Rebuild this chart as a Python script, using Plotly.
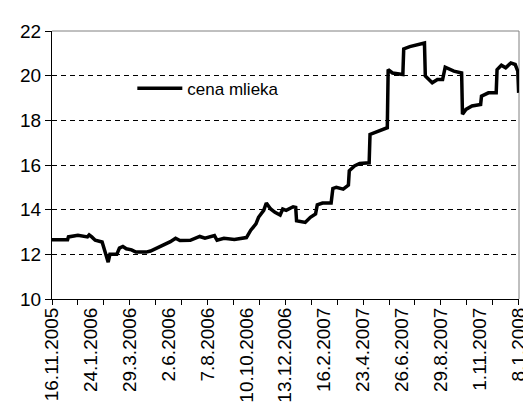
import plotly.graph_objects as go

# category labels (every 45th trading day)
tick_labels = ["16.11.2005", "24.1.2006", "29.3.2006", "2.6.2006", "7.8.2006",
               "10.10.2006", "13.12.2006", "16.2.2007", "23.4.2007", "26.6.2007",
               "29.8.2007", "1.11.2007", "8.1.2008"]
label_step = 45
minor_tick_step = 30
n_last = 540

# series: trading-day index and milk price
day_index = [0, 18, 19, 30, 41, 43, 46, 50, 58, 60, 63, 65, 67, 75, 78, 82, 86, 92, 97, 109,
             114, 123, 129, 137, 143, 148, 160, 171, 177, 188, 191, 199, 211, 225, 230, 236, 239, 245, 248, 253,
             258, 264, 267, 271, 279, 282, 283, 293, 299, 305, 307, 313, 320, 323, 325, 329, 337, 343, 344, 350,
             356, 367, 368, 373, 384, 388, 389, 394, 406, 407, 414, 422, 431, 432, 440, 446, 452, 455, 460, 465,
             474, 475, 479, 486, 496, 497, 505, 514, 515, 520, 525, 531, 536, 539, 540]
price = [12.65, 12.65, 12.78, 12.85, 12.78, 12.87, 12.78, 12.63, 12.55, 12.30, 11.90, 11.65, 12.00, 12.00, 12.28, 12.35, 12.25, 12.20, 12.10, 12.10,
         12.15, 12.30, 12.42, 12.57, 12.72, 12.62, 12.63, 12.80, 12.72, 12.84, 12.63, 12.72, 12.67, 12.75, 13.08, 13.36, 13.66, 13.97, 14.30, 14.03,
         13.88, 13.76, 14.03, 13.97, 14.13, 14.10, 13.50, 13.43, 13.66, 13.81, 14.22, 14.30, 14.30, 14.30, 14.95, 15.00, 14.92, 15.10, 15.74, 15.96,
         16.07, 16.10, 17.37, 17.45, 17.60, 17.67, 20.27, 20.12, 20.05, 21.20, 21.30, 21.39, 21.46, 19.98, 19.68, 19.83, 19.83, 20.38, 20.27, 20.20,
         20.12, 18.27, 18.49, 18.64, 18.71, 19.08, 19.23, 19.23, 20.27, 20.47, 20.35, 20.57, 20.50, 20.20, 19.23]

y_ticks = [10, 12, 14, 16, 18, 20, 22]

FONT = "Liberation Sans, Arial, sans-serif"

label_pos = [i * label_step for i in range(len(tick_labels))]
minor_pos = list(range(0, n_last + 1, minor_tick_step))
x_range = [0, n_last + 0.4]

fig = go.Figure()
fig.add_trace(go.Scatter(
    x=day_index, y=price, mode="lines", name="cena mlieka",
    line=dict(color="black", width=3.5), cliponaxis=False,
))
# empty helper trace so the tick-mark axis is drawn
fig.add_trace(go.Scatter(
    x=minor_pos, y=[None] * len(minor_pos), xaxis="x2", yaxis="y",
    mode="lines", showlegend=False, hoverinfo="skip",
))

fig.update_layout(
    width=531, height=405,
    margin=dict(l=44, r=10, t=23, b=113),
    paper_bgcolor="white", plot_bgcolor="white",
    font=dict(family=FONT, color="black", size=19),
    showlegend=True,
    legend=dict(x=0.172, y=0.785, xanchor="left", yanchor="middle",
                bgcolor="rgba(0,0,0,0)", font=dict(size=17, family=FONT),
                itemwidth=45),
    xaxis=dict(range=x_range, tickmode="array", tickvals=label_pos, ticktext=tick_labels,
               tickangle=-90, ticks="", showgrid=False, zeroline=False,
               showline=True, linecolor="black", linewidth=1,
               tickfont=dict(size=19, family=FONT, color="black")),
    xaxis2=dict(range=x_range, overlaying="x", anchor="y", side="bottom",
                tickmode="array", tickvals=minor_pos, ticks="outside", ticklen=5,
                tickcolor="black", showticklabels=False, showgrid=False,
                zeroline=False, showline=False),
    yaxis=dict(range=[10, 22], tickmode="array", tickvals=y_ticks,
               ticks="outside", ticklen=6, tickcolor="black",
               showgrid=True, gridcolor="black", gridwidth=1, griddash="5px,4px",
               zeroline=False, showline=True, linecolor="black", linewidth=1,
               tickfont=dict(size=19, family=FONT, color="black")),
    shapes=[dict(type="line", xref="paper", yref="paper", x0=0, x1=1, y0=1, y1=1,
                 line=dict(color="#808080", width=1), layer="above"),
            dict(type="line", xref="paper", yref="paper", x0=1, x1=1, y0=0, y1=1,
                 line=dict(color="#808080", width=1), layer="below")],
)

fig.write_html("out.html")
